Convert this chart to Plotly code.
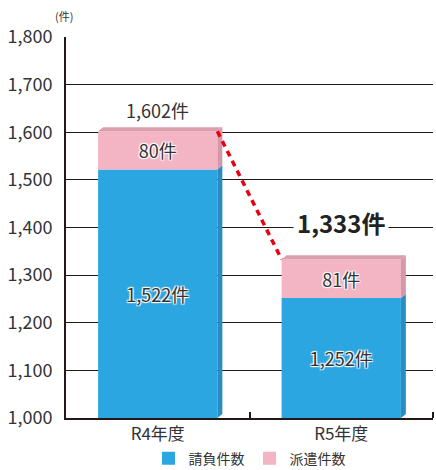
import plotly.graph_objects as go

# Data
years = ["R4年度", "R5年度"]
contract = [1522, 1252]     # 請負件数
dispatch = [80, 81]         # 派遣件数
totals = [c + d for c, d in zip(contract, dispatch)]

FONT = "Noto Sans CJK JP"
DARK = "#231815"
BLUE, BLUE_SIDE = "#2CA6E0", "#2A8CC3"
PINK, PINK_TOP, PINK_SIDE = "#F3B4C4", "#DA9FAE", "#D598A8"
RED = "#E60012"

x = list(range(len(years)))
W = 0.65          # bar width (category units)
DX, DY = 0.027, 8.5  # depth of the 3D faces
YMIN, YMAX = 1000, 1800

halo = "1px 1px 1px #fff, -1px -1px 1px #fff, 1px -1px 1px #fff, -1px 1px 1px #fff"

fig = go.Figure()
fig.add_trace(go.Bar(
    x=x, y=[c - YMIN for c in contract], base=YMIN, width=W, name="請負件数",
    marker=dict(color=BLUE, line=dict(width=0)), showlegend=False,
    text=[f"{v:,}件" for v in contract], textposition="inside",
    insidetextanchor="middle",
    textfont=dict(family=FONT, size=18, color="#333", shadow=halo),
    hoverinfo="skip",
))
fig.add_trace(go.Bar(
    x=x, y=dispatch, base=contract, width=W, name="派遣件数",
    marker=dict(color=PINK, line=dict(width=0)), showlegend=False,
    text=[f"{v:,}件" for v in dispatch], textposition="inside",
    insidetextanchor="middle",
    textfont=dict(family=FONT, size=18, color="#333", shadow=halo),
    hoverinfo="skip",
))


def poly_trace(polys, color):
    xs, ys = [], []
    for px, py in polys:
        xs += px + [px[0], None]
        ys += py + [py[0], None]
    return go.Scatter(x=xs, y=ys, fill="toself", fillcolor=color, mode="none",
                      showlegend=False, hoverinfo="skip")


blue_side, pink_side, pink_top = [], [], []
for i, c, t in zip(x, contract, totals):
    xl, xr = i - W / 2, i + W / 2
    blue_side.append(([xr, xr + DX, xr + DX, xr], [YMIN, YMIN + DY, c + DY, c]))
    pink_side.append(([xr, xr + DX, xr + DX, xr], [c, c + DY, t + DY, t]))
    pink_top.append(([xl, xl + DX, xr + DX, xr], [t, t + DY, t + DY, t]))

fig.add_trace(poly_trace(blue_side, BLUE_SIDE))
fig.add_trace(poly_trace(pink_side, PINK_SIDE))
fig.add_trace(poly_trace(pink_top, PINK_TOP))

# Dashed trend line between bar tops
fig.add_trace(go.Scatter(
    x=[x[0] + W / 2, x[1] - W / 2], y=totals, mode="lines",
    line=dict(color=RED, width=3.5, dash="6px,5px"),
    showlegend=False, hoverinfo="skip",
))

# Legend entries with square swatches
for name, color in [("請負件数", BLUE), ("派遣件数", PINK)]:
    fig.add_trace(go.Scatter(
        x=[None], y=[None], mode="markers", name=name,
        marker=dict(symbol="square", size=13, color=color, line=dict(width=0)),
    ))

# Total labels
fig.add_annotation(x=x[0], y=totals[0], text=f"{totals[0]:,}件", showarrow=False,
                   yanchor="bottom", yshift=6,
                   font=dict(family=FONT, size=18, color="#333"))
fig.add_annotation(x=x[1], y=totals[1], text=f"<b>{totals[1]:,}件</b>", showarrow=False,
                   yanchor="bottom", yshift=15, bgcolor="white", borderpad=3,
                   font=dict(family=FONT, size=24, color="#222"))
fig.add_annotation(x=0, y=1, xref="paper", yref="paper", text="(件)", showarrow=False,
                   xanchor="center", yanchor="bottom", xshift=-2, yshift=11,
                   font=dict(family=FONT, size=11, color="#333"))

fig.update_layout(
    width=436, height=470,
    template="none",
    barmode="overlay",
    paper_bgcolor="white", plot_bgcolor="white",
    margin=dict(l=66, r=3, t=37, b=52, autoexpand=False),
    font=dict(family=FONT, color="#333"),
    showlegend=True,
    legend=dict(orientation="h", x=0.5, xanchor="center", y=-0.065, yanchor="top",
                font=dict(family=FONT, size=14, color="#333"),
                itemwidth=30, traceorder="normal"),
    xaxis=dict(
        range=[-0.5, 1.5], tickvals=x, ticktext=years, ticks="",
        showgrid=False, zeroline=False, showline=True, linecolor=DARK, linewidth=1.5,
        tickfont=dict(family=FONT, size=17, color="#333"),
        minor=dict(tickvals=[0.5, 1.5], ticks="inside", ticklen=6,
                   tickcolor=DARK, tickwidth=1.5, showgrid=False),
    ),
    yaxis=dict(
        range=[YMIN, YMAX], dtick=100, tickformat=",", ticks="",
        showgrid=True, gridcolor=DARK, gridwidth=1, zeroline=False,
        showline=True, linecolor=DARK, linewidth=2, ticklabelstandoff=8,
        tickfont=dict(family=FONT, size=18, color="#333"),
    ),
)

fig.write_html("out.html")
